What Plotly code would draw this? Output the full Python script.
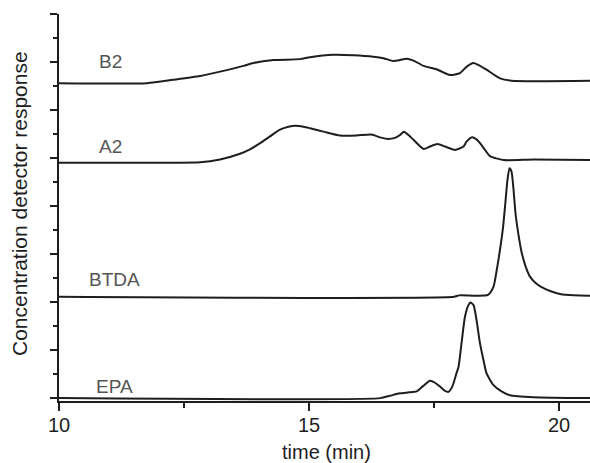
import plotly.graph_objects as go

# Retention time (min) and detector response for each sample trace
b2_time = [10.0, 11.76, 12.28, 12.82, 13.22, 13.69, 13.89, 14.29, 14.82, 15.02, 15.49,
           15.89, 16.29, 16.49, 16.69, 16.82, 16.95, 17.09, 17.29, 17.55, 17.82, 18.02,
           18.15, 18.29, 18.42, 18.55, 18.82, 19.05, 20.62]
b2_resp = [6.56, 6.56, 6.63, 6.71, 6.80, 6.92, 6.98, 7.04, 7.06, 7.10, 7.15,
           7.14, 7.11, 7.08, 7.02, 7.04, 7.07, 7.03, 6.92, 6.85, 6.73, 6.77,
           6.90, 6.98, 6.92, 6.84, 6.66, 6.61, 6.61]

a2_time = [10.0, 12.32, 12.82, 13.22, 13.62, 13.82, 14.02, 14.22, 14.42, 14.59, 14.72,
           14.89, 15.02, 15.29, 15.62, 15.95, 16.25, 16.42, 16.55, 16.72, 16.82, 16.90,
           16.99, 17.09, 17.29, 17.42, 17.57, 17.72, 17.92, 18.09, 18.15, 18.25, 18.35,
           18.42, 18.52, 18.62, 18.89, 19.49, 20.62]
a2_resp = [4.90, 4.90, 4.91, 4.97, 5.09, 5.18, 5.31, 5.45, 5.59, 5.65, 5.67,
           5.65, 5.62, 5.55, 5.47, 5.47, 5.49, 5.43, 5.40, 5.42, 5.48, 5.55,
           5.48, 5.38, 5.19, 5.24, 5.29, 5.24, 5.17, 5.24, 5.34, 5.43, 5.39,
           5.31, 5.17, 5.04, 4.96, 4.97, 4.96]

btda_time = [10.0, 17.90, 18.00, 18.58, 18.69, 18.76, 18.82, 18.88, 18.93, 18.97, 19.01,
             19.05, 19.09, 19.13, 19.19, 19.25, 19.33, 19.42, 19.55, 19.69, 19.85,
             20.02, 20.30, 20.62]
btda_resp = [2.11, 2.11, 2.14, 2.15, 2.32, 2.70, 3.09, 3.55, 4.10, 4.55, 4.79,
             4.72, 4.35, 3.85, 3.40, 3.05, 2.75, 2.53, 2.38, 2.29, 2.22,
             2.17, 2.14, 2.13]

epa_time = [10.0, 16.42, 16.62, 16.82, 17.00, 17.15, 17.28, 17.42, 17.52, 17.62, 17.72,
            17.79, 17.87, 17.95, 17.99, 18.05, 18.12, 18.19, 18.23, 18.29, 18.35,
            18.42, 18.49, 18.55, 18.69, 18.85, 19.02, 19.49, 20.62]
epa_resp = [0.0, 0.0, 0.05, 0.10, 0.12, 0.14, 0.25, 0.36, 0.32, 0.24, 0.15,
            0.13, 0.25, 0.52, 0.65, 1.14, 1.70, 1.94, 1.99, 1.94, 1.63,
            1.14, 0.79, 0.52, 0.27, 0.14, 0.06, 0.02, 0.0]

trace_names = ["B2", "A2", "BTDA", "EPA"]
label_time = [11.02, 11.02, 11.10, 11.10]
label_resp = [7.01, 5.24, 2.47, 0.24]

x_ticks = [10, 15, 20]

FONT = "Liberation Sans, Arial, sans-serif"
INK = "#1e1e1e"

fig = go.Figure()
for t, r in [(b2_time, b2_resp), (a2_time, a2_resp),
             (btda_time, btda_resp), (epa_time, epa_resp)]:
    fig.add_trace(go.Scatter(
        x=t, y=r, mode="lines",
        line=dict(color=INK, width=2, shape="spline", smoothing=0.6),
        showlegend=False, hoverinfo="skip",
    ))

for name, tx, ry in zip(trace_names, label_time, label_resp):
    fig.add_annotation(x=tx, y=ry, text=name, showarrow=False,
                       font=dict(family=FONT, size=19, color="#555555"),
                       xanchor="center", yanchor="middle")

fig.add_annotation(xref="paper", yref="paper", x=-0.0753, y=0.509,
                   text="Concentration detector response", textangle=-90,
                   showarrow=False, xanchor="center", yanchor="middle",
                   font=dict(family=FONT, size=21, color=INK))
fig.add_annotation(xref="paper", yref="paper", x=0.5047, y=-0.132,
                   text="time (min)", showarrow=False,
                   xanchor="center", yanchor="middle",
                   font=dict(family=FONT, size=20, color=INK))

fig.update_layout(
    width=590, height=463,
    margin=dict(l=59, r=0, t=14, b=62),
    paper_bgcolor="white", plot_bgcolor="white",
    font=dict(family=FONT, size=20, color=INK),
)
fig.update_xaxes(
    range=[10, 20.62], tickvals=x_ticks, ticktext=[str(v) for v in x_ticks],
    ticks="outside", ticklen=8, tickwidth=2, tickcolor=INK,
    showline=True, linewidth=2, linecolor=INK, showgrid=False, zeroline=False,
    tickfont=dict(family=FONT, size=20, color=INK), ticklabelstandoff=-3,
    minor=dict(tickvals=[12.5, 17.5], ticks="outside", ticklen=5, tickwidth=2, tickcolor=INK),
)
fig.update_yaxes(
    range=[-0.06, 8], dtick=1, tick0=0, showticklabels=False,
    ticks="outside", ticklen=7, tickwidth=2, tickcolor=INK,
    showline=True, linewidth=2, linecolor=INK, showgrid=False, zeroline=False,
    minor=dict(dtick=0.5, ticks="outside", ticklen=4, tickwidth=2, tickcolor=INK),
)

fig.write_html("out.html")
